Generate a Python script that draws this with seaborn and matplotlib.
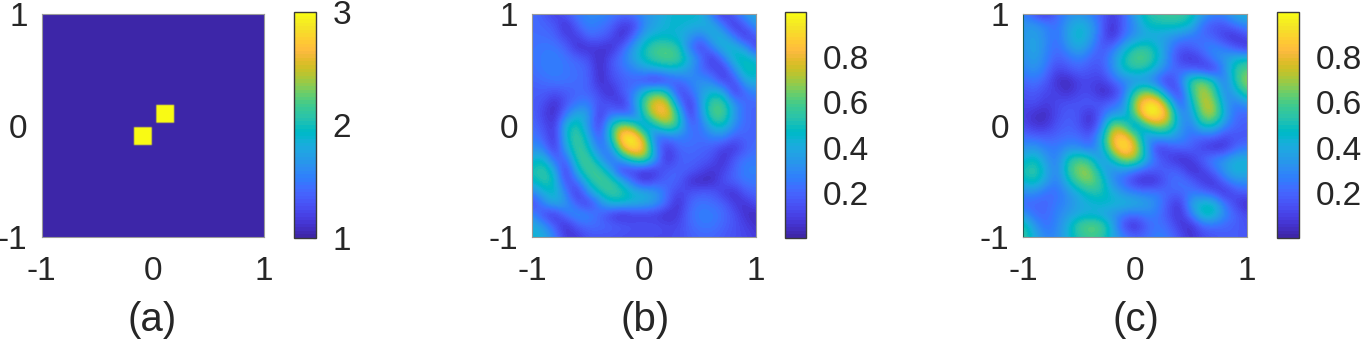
import numpy as np
import matplotlib
matplotlib.use("Agg")
import matplotlib.pyplot as plt
from matplotlib.colors import ListedColormap
import seaborn as sns

# parula, the old matlab one
parula = ListedColormap([
    [0.2422,0.1504,0.6603],[0.2504,0.1650,0.7076],[0.2578,0.1818,0.7511],[0.2647,0.1978,0.7952],
    [0.2706,0.2147,0.8364],[0.2751,0.2342,0.8710],[0.2783,0.2559,0.8991],[0.2803,0.2782,0.9221],
    [0.2813,0.3006,0.9414],[0.2810,0.3228,0.9579],[0.2795,0.3447,0.9717],[0.2760,0.3667,0.9829],
    [0.2699,0.3892,0.9906],[0.2602,0.4123,0.9952],[0.2440,0.4358,0.9988],[0.2206,0.4603,0.9973],
    [0.1963,0.4847,0.9892],[0.1834,0.5074,0.9798],[0.1786,0.5289,0.9682],[0.1764,0.5499,0.9520],
    [0.1687,0.5703,0.9359],[0.1540,0.5902,0.9218],[0.1460,0.6091,0.9079],[0.1380,0.6276,0.8973],
    [0.1248,0.6459,0.8883],[0.1113,0.6635,0.8763],[0.0952,0.6798,0.8598],[0.0689,0.6948,0.8394],
    [0.0297,0.7082,0.8163],[0.0036,0.7203,0.7917],[0.0067,0.7312,0.7660],[0.0433,0.7411,0.7394],
    [0.0964,0.7500,0.7120],[0.1408,0.7584,0.6842],[0.1717,0.7670,0.6554],[0.1938,0.7758,0.6251],
    [0.2161,0.7843,0.5923],[0.2470,0.7918,0.5567],[0.2906,0.7973,0.5188],[0.3406,0.8008,0.4789],
    [0.3909,0.8029,0.4354],[0.4456,0.8024,0.3909],[0.5044,0.7993,0.3480],[0.5616,0.7942,0.3045],
    [0.6174,0.7876,0.2612],[0.6720,0.7793,0.2227],[0.7242,0.7698,0.1910],[0.7738,0.7598,0.1646],
    [0.8203,0.7498,0.1535],[0.8634,0.7406,0.1596],[0.9035,0.7330,0.1774],[0.9393,0.7288,0.2100],
    [0.9728,0.7298,0.2394],[0.9956,0.7434,0.2371],[0.9970,0.7659,0.2199],[0.9952,0.7893,0.2028],
    [0.9892,0.8136,0.1885],[0.9786,0.8386,0.1766],[0.9676,0.8639,0.1643],[0.9610,0.8890,0.1537],
    [0.9597,0.9135,0.1423],[0.9628,0.9373,0.1265],[0.9691,0.9606,0.1064],[0.9769,0.9839,0.0805]])

# panel a: background 1, two squares of 3
bg_level = 1
sq_level = 3
sq_left = [-0.17, 0.03]
sq_bottom = [-0.17, 0.03]
sq_size = 0.15

# panels b and c, rows y=1 to -1, columns x=-1 to 1, step 0.1
field_b = [
[.22,.18,.08,.18,.25,.30,.30,.27,.22,.25,.32,.37,.42,.46,.46,.44,.25,.03,.22,.35,.42],
[.22,.20,.18,.02,.20,.28,.25,.20,.08,.08,.30,.38,.44,.45,.42,.42,.42,.25,.02,.20,.35],
[.22,.22,.20,.10,.08,.22,.20,.15,.02,.20,.40,.45,.45,.42,.35,.25,.42,.42,.25,.02,.20],
[.23,.25,.25,.20,.05,.05,.08,.03,.18,.35,.50,.60,.60,.55,.25,.08,.28,.45,.45,.35,.05],
[.23,.26,.27,.24,.20,.15,.02,.15,.25,.38,.50,.58,.62,.60,.42,.25,.03,.25,.48,.50,.42],
[.22,.26,.27,.25,.22,.20,.02,.15,.22,.28,.35,.38,.42,.42,.35,.20,.15,.05,.32,.52,.47],
[.20,.22,.25,.24,.22,.20,.03,.12,.18,.20,.12,.02,.12,.20,.28,.33,.28,.10,.12,.42,.42],
[.17,.18,.15,.17,.20,.20,.12,.02,.18,.25,.48,.62,.50,.08,.20,.35,.45,.42,.05,.22,.30],
[.18,.15,.03,.15,.25,.27,.15,.15,.03,.30,.62,.84,.82,.30,.03,.35,.60,.58,.32,.20,.20],
[.20,.10,.03,.25,.42,.38,.05,.25,.22,.18,.55,.82,.85,.55,.05,.30,.62,.62,.35,.20,.20],
[.22,.15,.05,.45,.55,.32,.06,.50,.72,.62,.28,.50,.68,.55,.20,.22,.45,.50,.30,.20,.20],
[.25,.20,.03,.45,.60,.42,.12,.50,.97,1.0,.70,.18,.25,.28,.25,.22,.28,.30,.18,.20,.20],
[.32,.28,.05,.38,.60,.50,.22,.30,.80,.98,.85,.30,.06,.20,.22,.20,.18,.10,.05,.18,.22],
[.42,.48,.18,.18,.56,.60,.38,.18,.40,.60,.68,.35,.03,.18,.20,.18,.15,.03,.18,.25,.25],
[.50,.58,.42,.03,.45,.60,.58,.38,.05,.10,.05,.08,.18,.20,.18,.12,.06,.10,.20,.28,.28],
[.45,.55,.50,.10,.22,.50,.60,.58,.42,.20,.05,.15,.20,.20,.05,.02,.03,.15,.20,.25,.25],
[.28,.42,.48,.28,.03,.32,.50,.58,.55,.45,.42,.35,.22,.10,.15,.18,.18,.08,.04,.18,.20],
[.08,.28,.42,.35,.18,.06,.28,.45,.45,.42,.40,.35,.20,.03,.20,.25,.22,.20,.08,.05,.15],
[.32,.12,.04,.25,.33,.30,.20,.08,.02,.08,.08,.08,.03,.08,.22,.27,.27,.22,.15,.05,.03],
[.42,.35,.18,.02,.18,.22,.22,.20,.18,.15,.15,.15,.12,.12,.20,.25,.25,.20,.15,.10,.05],
[.45,.42,.28,.08,.06,.15,.15,.15,.13,.12,.12,.12,.12,.13,.18,.20,.20,.17,.14,.12,.08],
]

field_c = [
[.28,.15,.06,.20,.30,.33,.28,.18,.08,.18,.38,.52,.55,.58,.58,.52,.38,.28,.30,.40,.45],
[.33,.35,.28,.22,.35,.45,.38,.20,.03,.20,.30,.47,.50,.50,.50,.45,.22,.15,.15,.25,.30],
[.33,.38,.30,.22,.38,.47,.38,.18,.03,.22,.33,.38,.38,.35,.30,.25,.22,.18,.08,.03,.15],
[.32,.40,.30,.20,.32,.42,.30,.15,.22,.40,.52,.55,.45,.30,.15,.18,.25,.30,.25,.15,.04],
[.30,.38,.28,.18,.22,.28,.20,.17,.32,.50,.62,.62,.48,.28,.10,.05,.12,.28,.35,.45,.48],
[.28,.33,.25,.10,.15,.20,.15,.15,.30,.48,.52,.50,.38,.25,.20,.20,.10,.06,.30,.55,.62],
[.20,.25,.18,.05,.02,.10,.12,.08,.20,.28,.32,.30,.20,.06,.25,.58,.68,.50,.22,.55,.72],
[.15,.18,.12,.10,.04,.12,.12,.03,.05,.22,.55,.70,.55,.20,.08,.55,.75,.62,.28,.40,.60],
[.12,.15,.08,.12,.15,.15,.18,.15,.20,.30,.72,.95,.95,.60,.12,.42,.75,.72,.35,.25,.35],
[.10,.05,.03,.12,.18,.15,.03,.20,.35,.35,.62,1.0,1.0,.80,.30,.32,.68,.75,.42,.20,.20],
[.13,.06,.06,.15,.20,.15,.04,.25,.70,.62,.30,.55,.72,.65,.35,.25,.50,.50,.30,.20,.18],
[.22,.20,.18,.20,.22,.22,.15,.40,.85,.90,.68,.30,.38,.38,.32,.22,.20,.20,.12,.15,.15],
[.32,.35,.27,.25,.32,.30,.22,.38,.78,1.0,.82,.40,.05,.15,.20,.20,.10,.04,.05,.20,.25],
[.42,.50,.35,.25,.50,.60,.52,.30,.50,.72,.72,.42,.20,.10,.03,.08,.20,.28,.33,.42,.42],
[.50,.58,.42,.25,.55,.70,.68,.42,.30,.33,.25,.18,.18,.20,.18,.03,.08,.22,.35,.45,.42],
[.45,.52,.38,.25,.45,.62,.68,.55,.30,.20,.06,.02,.06,.20,.25,.20,.08,.04,.22,.32,.32],
[.30,.32,.22,.22,.32,.42,.52,.52,.42,.32,.28,.25,.25,.20,.20,.25,.22,.15,.03,.15,.18],
[.20,.20,.20,.25,.30,.38,.42,.45,.45,.45,.42,.38,.30,.15,.05,.38,.47,.47,.25,.10,.03],
[.35,.22,.20,.28,.35,.40,.42,.38,.32,.25,.22,.28,.25,.15,.04,.25,.50,.50,.30,.20,.12],
[.55,.35,.22,.28,.42,.60,.65,.62,.40,.12,.02,.18,.25,.20,.08,.03,.20,.22,.20,.18,.15],
[.58,.42,.28,.30,.42,.52,.58,.55,.40,.28,.20,.22,.28,.25,.15,.05,.12,.15,.18,.18,.15],
]

cbar_ticks_a = [1, 2, 3]
cbar_ticks_bc = [0.2, 0.4, 0.6, 0.8]
axis_ticklabels = ["-1", "0", "1"]
panel_names = ["(a)", "(b)", "(c)"]

# build panel a on a fine grid from the squares
n_a = 201
xs = np.linspace(-1, 1, n_a)
field_a = np.full((n_a, n_a), float(bg_level))
for l, b in zip(sq_left, sq_bottom):
    for i, y in enumerate(xs[::-1]):
        if b <= y <= b + sq_size:
            field_a[i, (xs >= l) & (xs <= l + sq_size)] = sq_level

sns.set_style("white")
plt.rcParams['font.family'] = ['Liberation Sans', 'DejaVu Sans']
plt.rcParams['text.color'] = '#262626'

W, H = 1361, 342
fig = plt.figure(figsize=(W / 100, H / 100), dpi=100)

def px_axes(x0, y0, x1, y1):
    # pixel box, y from the top
    return fig.add_axes([x0 / W, 1 - y1 / H, (x1 - x0) / W, (y1 - y0) / H])

panels = [
    (np.array(field_a), (41.5, 14, 264, 237), (294, 12, 316, 238), 1, 3, cbar_ticks_a, 152),
    (np.array(field_b), (532, 14, 756, 237), (785, 12, 806, 238), 0, 1, cbar_ticks_bc, 645),
    (np.array(field_c), (1023, 14, 1247, 237), (1277, 12, 1299, 238), 0, 1, cbar_ticks_bc, 1136),
]

for (data, box, cbox, vmin, vmax, cticks, label_x), name in zip(panels, panel_names):
    ax = px_axes(*box)
    cax = px_axes(*cbox)
    sns.heatmap(data, ax=ax, cbar_ax=cax, cmap=parula, vmin=vmin, vmax=vmax,
                shading='gouraud', xticklabels=False, yticklabels=False,
                cbar_kws={"ticks": cticks})
    n = data.shape[0] - 1
    # same values again, smoothed by the renderer so the triangles dont show
    ax.imshow(data, cmap=parula, vmin=vmin, vmax=vmax, interpolation='bicubic', aspect='auto',
              extent=(-0.5, n + 0.5, n + 0.5, -0.5), zorder=2)
    ax.set_xlim(0, n)
    ax.set_ylim(n, 0)
    ax.set_xticks([0, n / 2, n])
    ax.set_yticks([0, n / 2, n])
    ax.set_xticklabels(axis_ticklabels)
    ax.set_yticklabels(axis_ticklabels[::-1])
    ax.tick_params(axis='both', length=0, labelsize=24, labelcolor='#262626', labelrotation=0)
    ax.tick_params(axis='x', pad=14)
    ax.tick_params(axis='y', pad=10)
    for s in ax.spines.values():
        s.set_visible(True)
        s.set_color('#9a9a9a')
        s.set_linewidth(0.8)
        s.set_zorder(3)
    if name == "(c)":
        ax.spines['left'].set_color('#1c5f58')
    cb = ax.collections[0].colorbar
    cb.outline.set_visible(True)
    cb.outline.set_edgecolor('#3a3a3a')
    cb.outline.set_linewidth(1.0)
    cax.tick_params(axis='y', direction='in', length=2, width=0.8, color='#262626',
                    labelsize=24, labelcolor='#262626', pad=12, right=True, labelright=True)
    if name == "(a)":
        cb.set_ticklabels(["1", "2", "3"])
    else:
        cb.set_ticklabels(["0.2", "0.4", "0.6", "0.8"])
    fig.text(label_x / W, 1 - 320 / H, name, ha='center', va='center', fontsize=29)

fig.savefig("out.png", dpi=100)
